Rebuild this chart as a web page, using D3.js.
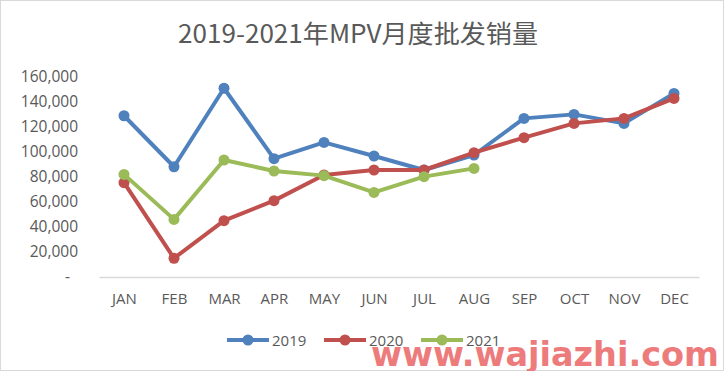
<!DOCTYPE html>
<html>
<head>
<meta charset="utf-8">
<script src="https://cdn.jsdelivr.net/npm/d3@7"></script>
<style>
  body { margin: 0; background: #fff; }
  svg { display: block; }
</style>
</head>
<body>
<div id="chart"></div>
<script>
// monthly MPV wholesale volumes
const months = ["JAN", "FEB", "MAR", "APR", "MAY", "JUN", "JUL", "AUG", "SEP", "OCT", "NOV", "DEC"];
const sales2019 = [129000, 88200, 151000, 94700, 107700, 96800, 85600, 97600, 126900, 130100, 122900, 146900];
const sales2020 = [75500, 15000, 45100, 61100, 81600, 85600, 85600, 99500, 111500, 122900, 126900, 142900];
const sales2021 = [82100, 46100, 93600, 84800, 81100, 67700, 80300, 86900];
const yTicks = [0, 20000, 40000, 60000, 80000, 100000, 120000, 140000, 160000];

const series = [
    { name: "2019", values: sales2019, color: "#4f81bd" },
    { name: "2020", values: sales2020, color: "#c0504d" },
    { name: "2021", values: sales2021, color: "#9bbb59" }
];

const width = 724, height = 371;
const margin = { top: 77, right: 25, bottom: 94, left: 99 };

const svg = d3.select("#chart")
    .append("svg")
    .attr("width", width)
    .attr("height", height);

// outer border
svg.append("rect")
    .attr("x", 0.5).attr("y", 0.5)
    .attr("width", width - 1).attr("height", height - 1)
    .attr("fill", "#fff")
    .attr("stroke", "#d9d9d9");

svg.append("text")
    .attr("x", 178)
    .attr("y", 43)
    .attr("textLength", 360)
    .attr("lengthAdjust", "spacingAndGlyphs")
    .attr("fill", "#595959")
    .style("font-family", "'Noto Sans CJK SC', 'Open Sans', sans-serif")
    .style("font-size", "25px")
    .text("2019-2021年MPV月度批发销量");

const x = d3.scalePoint()
    .domain(months)
    .range([margin.left, width - margin.right])
    .padding(0.5);

const y = d3.scaleLinear()
    .domain([0, 160000])
    .range([height - margin.bottom, margin.top]);

const fmt = d => d === 0 ? "-" : d3.format(",")(d);

const yAxis = svg.append("g")
    .attr("transform", "translate(78,0)")
    .call(d3.axisLeft(y).tickValues(yTicks).tickFormat(fmt).tickSize(0).tickPadding(0));
yAxis.select(".domain").remove();
yAxis.selectAll("text")
    .attr("fill", "#595959")
    .style("font-family", "'Open Sans', sans-serif")
    .style("font-size", "15.5px");
yAxis.selectAll(".tick").filter(d => d === 0).select("text").attr("dx", "-8");

const xAxis = svg.append("g")
    .attr("transform", "translate(0," + (height - margin.bottom) + ")")
    .call(d3.axisBottom(x).tickSize(0).tickPadding(16));
xAxis.select(".domain").attr("stroke", "#d9d9d9").attr("stroke-width", 1.5);
xAxis.selectAll("text")
    .attr("fill", "#595959")
    .style("font-family", "'Open Sans', sans-serif")
    .style("font-size", "15px");

const line = d3.line()
    .x((d, i) => x(months[i]))
    .y(d => y(d));

series.forEach(s => {
    const g = svg.append("g");
    g.append("path")
        .datum(s.values)
        .attr("fill", "none")
        .attr("stroke", s.color)
        .attr("stroke-width", 4)
        .attr("stroke-linejoin", "round")
        .attr("d", line);
    g.selectAll("circle")
        .data(s.values)
        .enter()
        .append("circle")
        .attr("cx", (d, i) => x(months[i]))
        .attr("cy", d => y(d))
        .attr("r", 5.5)
        .attr("fill", s.color);
});

// legend
const legend = svg.append("g")
    .selectAll("g")
    .data(series)
    .enter()
    .append("g")
    .attr("transform", (d, i) => "translate(" + (227 + i * 97) + ",340)");
legend.append("line")
    .attr("x1", 0).attr("x2", 42)
    .attr("stroke", d => d.color)
    .attr("stroke-width", 4);
legend.append("circle")
    .attr("cx", 21).attr("r", 5.5)
    .attr("fill", d => d.color);
legend.append("text")
    .attr("x", 45)
    .attr("y", 5.5)
    .attr("fill", "#595959")
    .style("font-family", "'Open Sans', sans-serif")
    .style("font-size", "15px")
    .text(d => d.name);

// watermark
svg.append("text")
    .attr("x", 371)
    .attr("y", 366)
    .attr("textLength", 348)
    .attr("lengthAdjust", "spacingAndGlyphs")
    .attr("fill", "#ee7b7b")
    .style("font-family", "'DejaVu Sans', sans-serif")
    .style("font-weight", "bold")
    .style("font-size", "33px")
    .text("www.wajiazhi.com");
</script>
</body>
</html>
